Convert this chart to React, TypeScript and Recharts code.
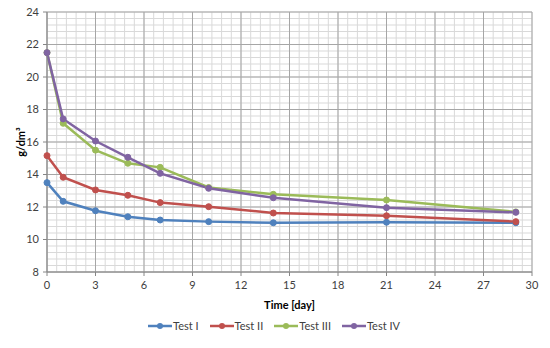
import { CartesianGrid, Legend, Line, LineChart, XAxis, YAxis } from 'recharts';

// sampling days
const days = [0, 1, 3, 5, 7, 10, 14, 21, 29];

// concentration in g/dm³ per test
const testI = [13.5, 12.35, 11.77, 11.4, 11.2, 11.1, 11.03, 11.06, 11.03];
const testII = [15.16, 13.83, 13.05, 12.72, 12.27, 12.02, 11.63, 11.46, 11.1];
const testIII = [21.5, 17.15, 15.5, 14.69, 14.44, 13.2, 12.78, 12.43, 11.7];
const testIV = [21.5, 17.42, 16.06, 15.06, 14.07, 13.15, 12.57, 11.96, 11.67];

const xTicks = [0, 3, 6, 9, 12, 15, 18, 21, 24, 27, 30];
const yTicks = [8, 10, 12, 14, 16, 18, 20, 22, 24];

const series = [
  { key: 'testI', name: 'Test I', color: '#4F81BD' },
  { key: 'testII', name: 'Test II', color: '#C0504D' },
  { key: 'testIII', name: 'Test III', color: '#9BBB59' },
  { key: 'testIV', name: 'Test IV', color: '#8064A2' },
];

const data = days.map((d, i) => ({
  day: d,
  testI: testI[i],
  testII: testII[i],
  testIII: testIII[i],
  testIV: testIV[i],
}));

// Excel-style minor grid: major unit / 5
const minorX: number[] = [];
for (let v = 0; v <= 30.001; v += 0.6) minorX.push(Math.round(v * 10) / 10);
const minorY: number[] = [];
for (let v = 8; v <= 24.001; v += 0.4) minorY.push(Math.round(v * 10) / 10);

const FONT = 'Lato, "Open Sans", sans-serif';
const tickStyle = { fontSize: 11, fill: '#404040', fontFamily: FONT };

function LegendContent() {
  return (
    <div
      style={{
        display: 'flex',
        justifyContent: 'center',
        gap: 11,
        fontFamily: FONT,
        fontSize: 11,
        color: '#404040',
        paddingLeft: 16,
      }}
    >
      {series.map((s) => (
        <div key={s.key} style={{ display: 'flex', alignItems: 'center' }}>
          <svg width={24} height={10}>
            <line x1={0} y1={5} x2={24} y2={5} stroke={s.color} strokeWidth={2.5} />
            <circle cx={12} cy={5} r={3} fill={s.color} />
          </svg>
          <span style={{ marginLeft: 1 }}>{s.name}</span>
        </div>
      ))}
    </div>
  );
}

function YLabel({ viewBox }: any) {
  const cx = 20;
  const cy = viewBox.y + viewBox.height / 2;
  return (
    <text
      x={cx}
      y={cy}
      transform={`rotate(-90 ${cx} ${cy})`}
      textAnchor="middle"
      dominantBaseline="central"
      fontFamily={FONT}
      fontSize={11}
      fontWeight="bold"
      fill="#000"
    >
      g/dm³
    </text>
  );
}

export default function App() {
  return (
    <div style={{ position: 'absolute', left: 0, top: 0, background: '#fff' }}>
      <LineChart width={550} height={348} data={data} margin={{ top: 12, right: 18, left: 0, bottom: 13 }}>
        <CartesianGrid stroke="#D9D9D9" strokeWidth={1} horizontalValues={minorY} verticalValues={minorX} />
        <CartesianGrid stroke="#A6A6A6" strokeWidth={1} horizontalValues={yTicks} verticalValues={xTicks} />
        <XAxis
          dataKey="day"
          type="number"
          domain={[0, 30]}
          ticks={xTicks}
          interval={0}
          height={47}
          tickSize={4}
          tickMargin={5}
          stroke="#868686"
          tick={tickStyle}
          label={{
            value: 'Time [day]',
            position: 'insideBottom',
            offset: 10,
            style: { fontSize: 11, fontWeight: 'bold', fill: '#000', fontFamily: FONT },
          }}
        />
        <YAxis
          type="number"
          domain={[8, 24]}
          ticks={yTicks}
          interval={0}
          width={47}
          tickSize={4}
          tickMargin={4}
          stroke="#868686"
          tick={tickStyle}
          label={<YLabel />}
        />
        <Legend verticalAlign="bottom" height={16} content={<LegendContent />} />
        {series.map((s) => (
          <Line
            key={s.key}
            type="linear"
            dataKey={s.key}
            name={s.name}
            stroke={s.color}
            strokeWidth={2.5}
            dot={{ r: 3, fill: s.color, stroke: s.color, strokeWidth: 1 }}
            isAnimationActive={false}
          />
        ))}
      </LineChart>
    </div>
  );
}
